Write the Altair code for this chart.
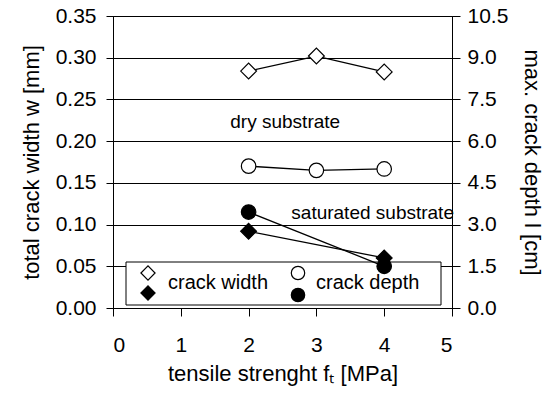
import altair as alt
import pandas as pd

# ---- data ----
strength_dry = [2, 3, 4]
width_dry = [0.284, 0.302, 0.283]
depth_dry = [5.1, 4.95, 5.0]

strength_sat = [2, 4]
width_sat = [0.092, 0.060]
depth_sat = [3.45, 1.5]

x_ticks = [0, 1, 2, 3, 4, 5]
w_ticks = [0.0, 0.05, 0.10, 0.15, 0.20, 0.25, 0.30, 0.35]
d_ticks = [0.0, 1.5, 3.0, 4.5, 6.0, 7.5, 9.0, 10.5]

legend_labels = ["crack width", "crack depth"]
notes = ["dry substrate", "saturated substrate"]
note_x = [1.73, 2.63]
note_y = [0.223, 0.114]

FONT = "Liberation Sans"

df_w = pd.DataFrame({
    "x": strength_dry + strength_sat,
    "w": width_dry + width_sat,
    "cond": ["dry"] * len(strength_dry) + ["saturated"] * len(strength_sat),
})
df_d = pd.DataFrame({
    "x": strength_dry + strength_sat,
    "d": depth_dry + depth_sat,
    "cond": ["dry"] * len(strength_dry) + ["saturated"] * len(strength_sat),
})
df_notes = pd.DataFrame({"x": note_x, "w": note_y, "label": notes})

x_enc = alt.X(
    "x:Q",
    scale=alt.Scale(domain=[0, 5], nice=False),
    axis=alt.Axis(values=x_ticks, format="d", grid=False,
                  title="tensile strenght fₜ [MPa]", tickSize=8,
                  labelPadding=18, titlePadding=8),
)
y_w = alt.Y(
    "w:Q",
    scale=alt.Scale(domain=[0, 0.35], nice=False, zero=True),
    axis=alt.Axis(orient="left", values=w_ticks, format=".2f", grid=True,
                  gridColor="black", gridWidth=1, gridOpacity=1,
                  title="total crack width w [mm]", tickSize=7,
                  labelPadding=10, titlePadding=12),
)
y_d = alt.Y(
    "d:Q",
    scale=alt.Scale(domain=[0, 10.5], nice=False, zero=True),
    axis=alt.Axis(orient="right", values=d_ticks, format=".1f", grid=False,
                  title="max. crack depth l [cm]", tickSize=8,
                  labelPadding=7, titlePadding=12),
)
fill_scale = alt.Scale(domain=["dry", "saturated"], range=["white", "black"])

# left axis layers (crack width)
line_w = alt.Chart(df_w).mark_line(color="black", strokeWidth=1.3).encode(
    x=x_enc, y=y_w, detail="cond:N")
pts_w = alt.Chart(df_w).mark_point(
    shape="diamond", filled=True, stroke="black", strokeWidth=1.2,
    size=250, opacity=1).encode(
    x=x_enc, y=y_w, fill=alt.Fill("cond:N", scale=fill_scale, legend=None))
txt_notes = alt.Chart(df_notes).mark_text(
    align="left", baseline="middle", font=FONT, fontSize=19, color="black").encode(
    x=x_enc, y=y_w, text="label:N")
left = alt.layer(line_w, txt_notes, pts_w)

# right axis layers (crack depth)
line_d = alt.Chart(df_d).mark_line(color="black", strokeWidth=1.3).encode(
    x=x_enc, y=y_d, detail="cond:N")
pts_d = alt.Chart(df_d).mark_point(
    shape="circle", filled=True, stroke="black", strokeWidth=1.2,
    size=210, opacity=1).encode(
    x=x_enc, y=y_d, fill=alt.Fill("cond:N", scale=fill_scale, legend=None))
right = alt.layer(line_d, pts_d)

# legend box
one = pd.DataFrame({"a": [0]})
leg_box = alt.Chart(one).mark_rect(fill="white", stroke="black", strokeWidth=1).encode(
    x=alt.value(13), x2=alt.value(328), y=alt.value(246), y2=alt.value(289))
leg_sym = [
    alt.Chart(one).mark_point(shape="diamond", filled=True, fill="white", stroke="black",
                              strokeWidth=1.2, size=200, opacity=1).encode(
        x=alt.value(35), y=alt.value(257)),
    alt.Chart(one).mark_point(shape="diamond", filled=True, fill="black", stroke="black",
                              strokeWidth=1.2, size=200, opacity=1).encode(
        x=alt.value(35), y=alt.value(277)),
    alt.Chart(one).mark_point(shape="circle", filled=True, fill="white", stroke="black",
                              strokeWidth=1.2, size=180, opacity=1).encode(
        x=alt.value(185), y=alt.value(257)),
    alt.Chart(one).mark_point(shape="circle", filled=True, fill="black", stroke="black",
                              strokeWidth=1.2, size=180, opacity=1).encode(
        x=alt.value(185), y=alt.value(279)),
]
leg_txt = [
    alt.Chart(one).mark_text(align="left", baseline="middle", font=FONT, fontSize=20,
                             color="black").encode(
        x=alt.value(55), y=alt.value(267), text=alt.value(legend_labels[0])),
    alt.Chart(one).mark_text(align="left", baseline="middle", font=FONT, fontSize=20,
                             color="black").encode(
        x=alt.value(203), y=alt.value(267), text=alt.value(legend_labels[1])),
]
legend = alt.layer(leg_box, *leg_sym, *leg_txt)

chart = alt.layer(legend, left, right).resolve_scale(y="independent").properties(
    width=339, height=292,
    autosize=alt.AutoSizeParams(type="none"),
    padding={"left": 113, "top": 16, "right": 102, "bottom": 86},
    background="white",
).configure_view(stroke="black", strokeWidth=1).configure_axis(
    labelFont=FONT, titleFont=FONT, labelFontSize=21, titleFontSize=22,
    labelColor="black", titleColor="black", tickColor="black", domainColor="black",
    titleFontWeight="normal", domainWidth=1, tickWidth=1,
)

chart.save("out.html", embed_options={"renderer": "svg", "actions": False})
